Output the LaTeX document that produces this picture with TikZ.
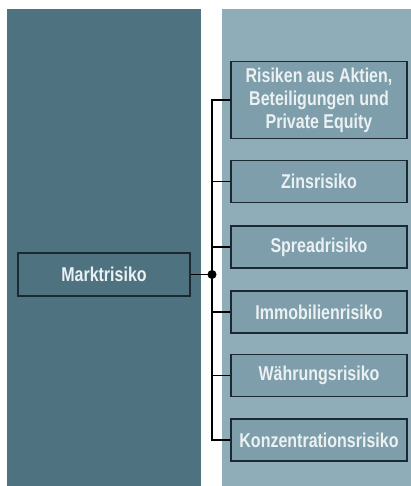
\documentclass[tikz,border=0pt]{standalone}
\usepackage{fontspec}
\setmainfont{Liberation Sans}[FakeStretch=0.8]
\usetikzlibrary{arrows,calc}
\tikzset{>=latex}
\definecolor{paneldark}{HTML}{4F7281}
\definecolor{panellight}{HTML}{8EADB8}
\definecolor{boxfill}{HTML}{7D9EAA}
\definecolor{boxline}{HTML}{1A2A30}
\definecolor{boxtext}{HTML}{EBF1F3}
\tikzstyle{riskbox}=[rectangle,draw=boxline,fill=boxfill,line width=1.6pt,minimum width=176pt,minimum height=42pt,text=boxtext,font=\fontsize{20}{23}\selectfont\bfseries,align=center]
\tikzstyle{link}=[draw=black,line width=1.6pt]

\begin{document}
\begin{tikzpicture}[x=1pt,y=-1pt,inner sep=0pt]
	\useasboundingbox (0,0) rectangle (411,486);
	\fill[paneldark] (7,9) rectangle (201,486);
	\fill[panellight] (222,9) rectangle (411,486);

	\node[riskbox, fill=paneldark, minimum width=172pt, minimum height=43pt] (markt) at (104, 274.5) {Marktrisiko};
	\node[riskbox, minimum height=77pt] (risk1) at (319, 100) {Risiken aus Aktien,\\Beteiligungen und\\Private Equity};
	\node[riskbox] (risk2) at (319, 181.5) {Zinsrisiko};
	\node[riskbox] (risk3) at (319, 247) {Spreadrisiko};
	\node[riskbox] (risk4) at (319, 312) {Immobilienrisiko};
	\node[riskbox] (risk5) at (319, 375.5) {Währungsrisiko};
	\node[riskbox] (risk6) at (319, 440) {Konzentrationsrisiko};
	\coordinate (hub) at (212, 274.5);

	\draw[link] (markt) -- (hub);
	\draw[link] (risk1) -| (hub);
	\draw[link] (risk2) -| (hub);
	\draw[link] (risk3) -| (hub);
	\draw[link] (risk4) -| (hub);
	\draw[link] (risk5) -| (hub);
	\draw[link] (risk6) -| (hub);
	\fill (hub) circle (4.5);
\end{tikzpicture}
\end{document}
